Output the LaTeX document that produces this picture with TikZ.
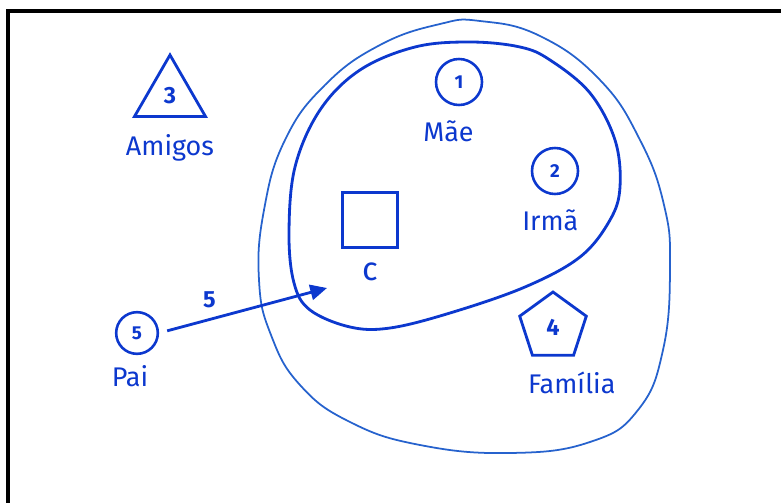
\documentclass[tikz,border=0pt]{standalone}
\usepackage{fontspec}
\setmainfont{Fira Sans}
\usetikzlibrary{arrows.meta,positioning,shapes.geometric}
\definecolor{marker}{RGB}{12,56,206}
\definecolor{markerlight}{RGB}{38,98,205}
\tikzset{>=Stealth}

\begin{document}
\begin{tikzpicture}[x=0.03cm, y=-0.03cm,
    person/.style={draw=marker, circle, line width=2.2pt, minimum size=1.38cm, inner sep=0pt, text=marker, font=\fontsize{16}{16}\selectfont\bfseries},
    symbol/.style={draw=marker, line width=2.4pt, inner sep=0pt, text=marker, font=\fontsize{20}{20}\selectfont\bfseries},
    caption/.style={text=marker, inner sep=0pt, font=\fontsize{23}{23}\selectfont},
    conn/.style={draw=marker, line width=2.4pt, -{Triangle[length=5mm,width=4.6mm]}},
    node distance=4mm
  ]
    \useasboundingbox (0,0) rectangle (781,503);
    % frame
    \draw[line width=2.6pt] (781,11) -- (8,11) -- (8,503);

    % family (outer) and close family (inner)
    \draw[markerlight, line width=1.5pt] plot[smooth cycle, tension=0.75] coordinates {
      (480,21) (540,36) (600,80) (640,140) (664,205) (670,267)
      (663,350) (638,410) (590,442) (510,453) (420,445) (350,422) (300,385)
      (271,335) (259,280) (264,210) (285,140) (325,85) (380,45) (440,24)};
    \draw[marker, line width=2.4pt] plot[smooth cycle, tension=0.6] coordinates {
      (470,42) (520,47) (550,60) (590,93) (615,140) (620,187) (610,220)
      (580,257) (525,287) (450,313) (390,328) (350,327) (310,310) (294,283)
      (289,233) (295,167) (320,110) (360,70) (415,47)};

    \node[symbol, regular polygon, regular polygon sides=3, minimum size=2.46cm] (amigos) at (170,96) {3};
    \node[caption, below=0.5cm of amigos] (amigoslbl) {Amigos};

    \node[person] (mae) at (459,82) {1};
    \node[caption, below=0.42cm of mae, xshift=-9] (maelbl) {Mãe};

    \node[person] (irma) at (555,171) {2};
    \node[caption, below=0.42cm of irma, xshift=-4] (irmalbl) {Irmã};

    \node[symbol, rectangle, minimum size=1.65cm] (ego) at (370,220) {};
    \node[caption, below=0.42cm of ego, font=\fontsize{28}{28}\selectfont] (egolbl) {c};

    \node[symbol, regular polygon, regular polygon sides=5, minimum size=2.1cm] (familia) at (553,327) {4};
    \node[caption, below=0.45cm of familia, xshift=16] (familialbl) {Família};

    \node[person, minimum size=1.25cm] (pai) at (137,333) {5};
    \node[caption, below=0.3cm of pai, xshift=-6] (pailbl) {Pai};

    \coordinate (egoin) at (327,288);
    \draw[conn, shorten <=2.5mm] (pai.east) -- node[pos=0.3, above=5pt, text=marker, font=\fontsize{20}{20}\selectfont\bfseries] (peso) {5} (egoin);
\end{tikzpicture}
\end{document}
